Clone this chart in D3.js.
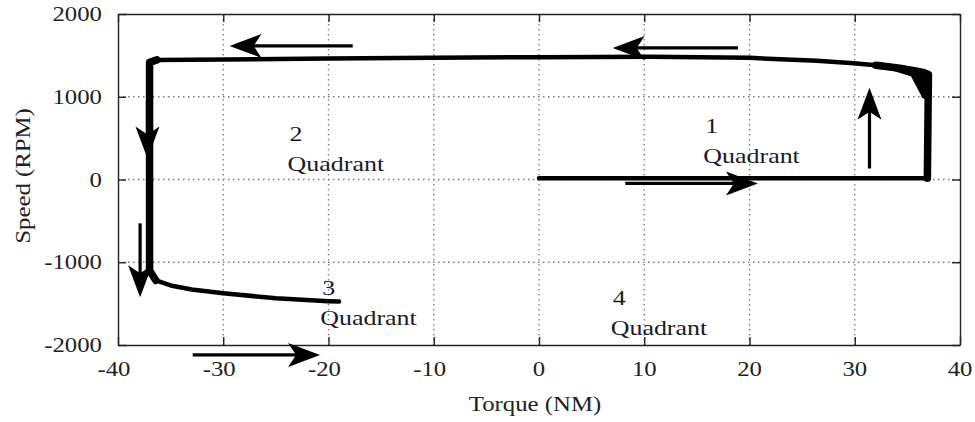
<!DOCTYPE html>
<meta charset="utf-8">
<style>
    body { margin: 0; background: #fff; }
    text { font-family: "Liberation Serif", "Times New Roman", serif; }
    .grid line { stroke: #7a7a7a; stroke-width: 1.3; stroke-dasharray: 1.5 3.5; }
    .axis path, .axis line { stroke: #222; stroke-width: 1.4; }
    .trace { fill: none; stroke: #000; stroke-linejoin: round; stroke-linecap: round; }
</style>

<svg width="975" height="422"></svg>

<script src="https://cdn.jsdelivr.net/npm/d3@7"></script>
<script>

    // DATA

    var xTicks = [-40, -30, -20, -10, 0, 10, 20, 30, 40],
        yTicks = [-2000, -1000, 0, 1000, 2000];

    // speed/torque trajectory (torque in NM, speed in RPM)
    var traceTorque = [0, 36.9, 37.0, 36.6, 35.9, 34.3, 32.0, 29.9, 26.4, 20.0, 10.5, 0, -10, -20, -30, -36.3, -37.0,
        -37.0, -36.4, -35.0, -33.0, -30.0, -25.0, -20.0, -19.0];
    var traceSpeed = [15, 15, 1270, 1290, 1310, 1345, 1380, 1405, 1434, 1470, 1482, 1478, 1472, 1462, 1450, 1445, 1415,
        -1100, -1220, -1280, -1330, -1375, -1435, -1470, -1475];
    // noisy, heavy parts of the trace (index ranges)
    var heavyParts = [[1, 6], [15, 18]];

    // smeared corner at top right (torque, speed)
    var blobTorque = [33.5, 35.8, 37.1, 37.1, 36.4, 36.4, 35.4, 33.5];
    var blobSpeed = [1385, 1335, 1285, 950, 1000, 1012, 1253, 1330];

    // arrows: [torque from, speed from, torque to, speed to]
    var arrows = [
        [-17.7, 1614, -29.4, 1614],
        [18.9, 1590, 7.0, 1590],
        [31.4, 133, 31.4, 1108],
        [8.2, -48, 20.8, -48],
        [-37.2, 950, -37.2, 253],
        [-37.9, -530, -37.9, -1422],
        [-32.9, -2120, -20.8, -2120]
    ];

    // quadrant labels: [number, torque, speed]
    var quadrants = [
        ["1", 15.8, 560],
        ["2", -23.7, 460],
        ["3", -20.6, -1400],
        ["4", 7.0, -1520]
    ];

    // SETUP

    var svg = d3.select("svg"),
        x = d3.scaleLinear().domain([-40, 40]).range([118, 960]),
        y = d3.scaleLinear().domain([-2000, 2000]).range([345, 14]),
        sx = 1.18;

    var grid = svg.append("g").attr("class", "grid");
    grid.selectAll(".gx")
        .data(xTicks.slice(1, -1))
        .enter().append("line")
        .attr("x1", function (d) { return x(d); })
        .attr("x2", function (d) { return x(d); })
        .attr("y1", y(2000)).attr("y2", y(-2000));
    grid.selectAll(".gy")
        .data(yTicks.slice(1, -1))
        .enter().append("line")
        .attr("y1", function (d) { return y(d); })
        .attr("y2", function (d) { return y(d); })
        .attr("x1", x(-40)).attr("x2", x(40));

    // axes with inward ticks, labels drawn separately
    function axis(gen, tx, ty, ticks) {
        svg.append("g")
            .attr("class", "axis")
            .attr("transform", "translate(" + tx + "," + ty + ")")
            .call(gen.tickValues(ticks).tickSizeInner(-8).tickSizeOuter(0).tickFormat(""));
    }
    axis(d3.axisBottom(x), 0, y(-2000), xTicks);
    axis(d3.axisTop(x), 0, y(2000), xTicks);
    axis(d3.axisLeft(y), x(-40), 0, yTicks);
    axis(d3.axisRight(y), x(40), 0, yTicks);

    // tick labels
    svg.selectAll(".xl")
        .data(xTicks)
        .enter().append("text")
        .attr("text-anchor", "middle")
        .attr("font-size", 21)
        .attr("fill", "#222")
        .attr("transform", function (d) { return "translate(" + (x(d) - (d < 0 ? 4 : 0)) + ",376) scale(" + sx + ",1)"; })
        .text(function (d) { return d; });

    svg.selectAll(".yl")
        .data(yTicks)
        .enter().append("text")
        .attr("text-anchor", "end")
        .attr("font-size", 21)
        .attr("fill", "#222")
        .attr("transform", function (d) { return "translate(102," + (y(d) + 7) + ") scale(" + sx + ",1)"; })
        .text(function (d) { return d; });

    svg.append("text")
        .attr("text-anchor", "middle")
        .attr("font-size", 21)
        .attr("fill", "#222")
        .attr("transform", "translate(535,411) scale(" + sx + ",1)")
        .text("Torque (NM)");

    svg.append("text")
        .attr("text-anchor", "middle")
        .attr("font-size", 21)
        .attr("fill", "#222")
        .attr("transform", "translate(30,176) rotate(-90) scale(" + sx + ",1)")
        .text("Speed (RPM)");

    // TRACE

    var pts = traceTorque.map(function (t, i) { return [t, traceSpeed[i]]; });
    var line = d3.line()
        .x(function (d) { return x(d[0]); })
        .y(function (d) { return y(d[1]); });

    svg.append("path")
        .attr("class", "trace")
        .attr("stroke-width", 4.5)
        .attr("d", line(pts));

    heavyParts.forEach(function (r) {
        svg.append("path")
            .attr("class", "trace")
            .attr("stroke-width", 7.5)
            .attr("d", line(pts.slice(r[0], r[1] + 1)));
    });

    svg.append("path")
        .attr("fill", "#000")
        .attr("stroke", "#000")
        .attr("stroke-width", 1.5)
        .attr("stroke-linejoin", "round")
        .attr("d", line(blobTorque.map(function (t, i) { return [t, blobSpeed[i]]; })) + "Z");

    // ARROWS

    var head = "M0,0 L-32,-12 L-24,0 L-32,12 Z";
    arrows.forEach(function (a) {
        var x1 = x(a[0]), y1 = y(a[1]), x2 = x(a[2]), y2 = y(a[3]),
            ang = Math.atan2(y2 - y1, x2 - x1);
        svg.append("line")
            .attr("x1", x1).attr("y1", y1)
            .attr("x2", x2 - 20 * Math.cos(ang))
            .attr("y2", y2 - 20 * Math.sin(ang))
            .attr("stroke", "#000")
            .attr("stroke-width", 3.2);
        svg.append("path")
            .attr("d", head)
            .attr("fill", "#000")
            .attr("transform", "translate(" + x2 + "," + y2 + ") rotate(" + (ang * 180 / Math.PI) + ")");
    });

    // QUADRANT LABELS

    quadrants.forEach(function (q) {
        var g = svg.append("g")
            .attr("transform", "translate(" + x(q[1]) + "," + y(q[2]) + ")");
        g.append("text")
            .attr("font-size", 22)
            .attr("fill", "#1a1a2a")
            .attr("transform", "scale(" + sx + ",1)")
            .text(q[0]);
        g.append("text")
            .attr("font-size", 22)
            .attr("fill", "#1a1a2a")
            .attr("transform", "translate(-2,30) scale(" + sx + ",1)")
            .text("Quadrant");
    });

</script>
